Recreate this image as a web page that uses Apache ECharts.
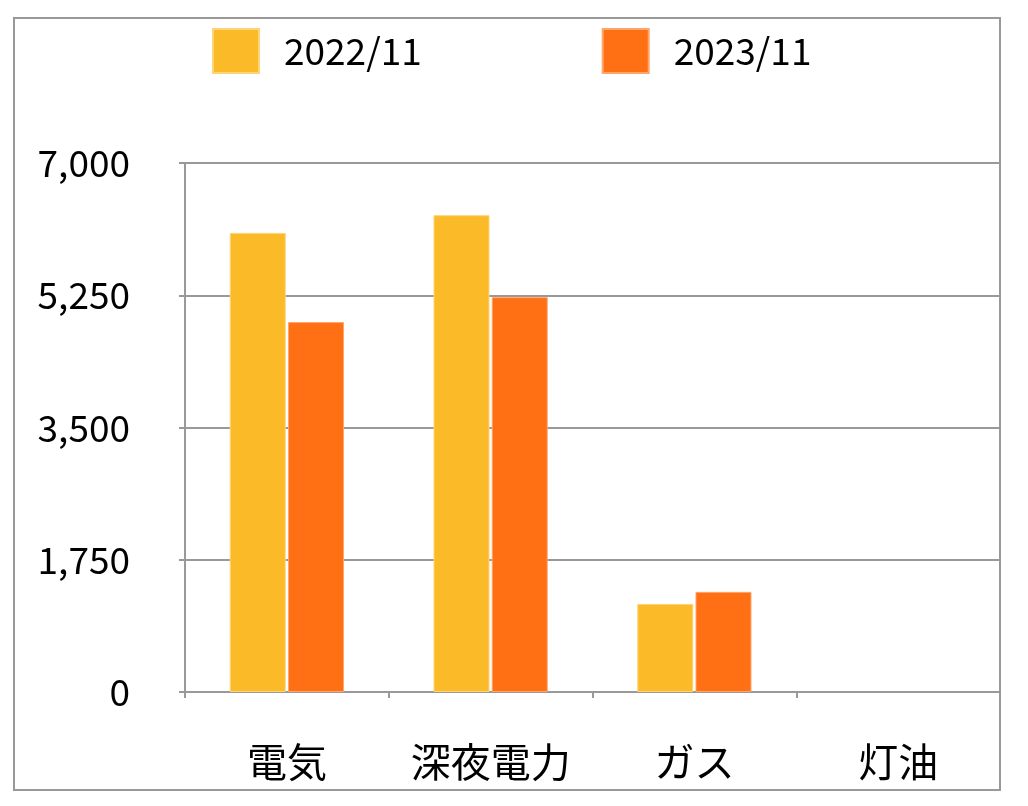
<!DOCTYPE html>
<html>
<head>
<meta charset="utf-8">
<script src="https://cdn.jsdelivr.net/npm/echarts@6/dist/echarts.min.js"></script>
<style>
html,body{margin:0;padding:0;background:#fff;}
#c{width:1028px;height:806px;}
</style>
</head>
<body>
<div id="c"></div>
<script>
const categories = ['電気', '深夜電力', 'ガス', '灯油'];
const seriesNames = ['2022/11', '2023/11'];
const values2022 = [6075, 6310, 1165, null];
const values2023 = [4895, 5225, 1325, null];
const yTicks = [0, 1750, 3500, 5250, 7000];

const FONT = '"Noto Sans CJK JP", "Noto Sans", sans-serif';
const GRAY = '#999999';

const chart = echarts.init(document.getElementById('c'), null, {renderer: 'canvas'});
chart.setOption({
  backgroundColor: '#ffffff',
  animation: false,
  textStyle: {fontFamily: FONT, color: '#000'},
  graphic: [{
    type: 'rect',
    shape: {x: 14, y: 18, width: 986, height: 772},
    style: {fill: 'none', stroke: GRAY, lineWidth: 2},
    silent: true,
    z: -1
  }],
  legend: {
    left: 207,
    top: 23,
    itemWidth: 46,
    itemHeight: 44,
    itemGap: 180,
    icon: 'rect',
    textStyle: {fontSize: 37, color: '#000', fontFamily: FONT, padding: [0, 0, 0, 20]},
    data: seriesNames
  },
  grid: {left: 185, right: 28, top: 163, bottom: 114, containLabel: false},
  xAxis: {
    type: 'category',
    data: categories,
    axisLine: {show: true, lineStyle: {color: GRAY, width: 2}},
    axisTick: {show: true, length: 6, interval: 0, alignWithLabel: false, lineStyle: {color: GRAY, width: 2}},
    axisLabel: {fontSize: 40, color: '#000', margin: 50, interval: 0, fontFamily: FONT},
    splitLine: {show: false}
  },
  yAxis: {
    type: 'value',
    min: yTicks[0],
    max: yTicks[yTicks.length - 1],
    interval: yTicks[1] - yTicks[0],
    axisLine: {show: true, lineStyle: {color: GRAY, width: 2}},
    axisTick: {show: true, length: 6, lineStyle: {color: GRAY, width: 2}},
    axisLabel: {
      fontSize: 37, color: '#000', margin: 55, fontFamily: FONT,
      formatter: v => v.toLocaleString('en-US')
    },
    splitLine: {show: true, lineStyle: {color: GRAY, width: 2}}
  },
  series: [
    {
      name: seriesNames[0], type: 'bar', data: values2022,
      barWidth: 56, barGap: '4%',
      itemStyle: {color: '#FBBB29', borderColor: '#FDD47A', borderWidth: 1}
    },
    {
      name: seriesNames[1], type: 'bar', data: values2023,
      barWidth: 56,
      itemStyle: {color: '#FF7015', borderColor: '#FFA66A', borderWidth: 1}
    }
  ]
});
</script>
</body>
</html>
